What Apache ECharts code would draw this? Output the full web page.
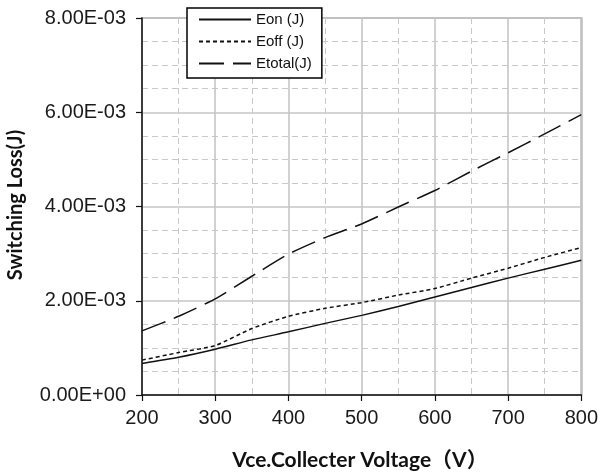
<!DOCTYPE html>
<html>
<head>
<meta charset="utf-8">
<script src="https://cdn.jsdelivr.net/npm/echarts@6/dist/echarts.min.js"></script>
<style>
  html, body { margin: 0; padding: 0; background: #ffffff; }
  #chart { width: 601px; height: 472px; }
</style>
</head>
<body>
<div id="chart"></div>
<script>
// Collector-emitter voltage (V)
const voltage = [200, 250, 300, 350, 400, 450, 500, 550, 600, 650, 700, 750, 800];

// Switching energies (J)
const eon    = [0.67e-3, 0.80e-3, 0.97e-3, 1.17e-3, 1.34e-3, 1.52e-3, 1.69e-3, 1.88e-3, 2.08e-3, 2.28e-3, 2.48e-3, 2.67e-3, 2.86e-3];
const eoff   = [0.74e-3, 0.90e-3, 1.05e-3, 1.41e-3, 1.67e-3, 1.84e-3, 1.96e-3, 2.12e-3, 2.26e-3, 2.48e-3, 2.69e-3, 2.92e-3, 3.13e-3];
const etotal = [1.36e-3, 1.67e-3, 2.04e-3, 2.52e-3, 2.99e-3, 3.34e-3, 3.63e-3, 3.99e-3, 4.34e-3, 4.75e-3, 5.14e-3, 5.54e-3, 5.95e-3];

const seriesNames = ['Eon (J)', 'Eoff (J)', 'Etotal(J)'];
const yTickLabels = ['0.00E+00', '2.00E-03', '4.00E-03', '6.00E-03', '8.00E-03'];
const xTickLabels = ['200', '300', '400', '500', '600', '700', '800'];
const xTitle = 'Vce.Collecter Voltage（V）';
const yTitle = 'Switching Loss(J)';

const pairs = (ys) => voltage.map((v, i) => [v, ys[i]]);

const chart = echarts.init(document.getElementById('chart'), null, { renderer: 'canvas' });

const labelFont = { fontFamily: 'Liberation Sans', fontSize: 20, color: '#1a1a1a' };
const majorGrid = { show: true, lineStyle: { color: '#c6c6c6', width: 1.6, type: 'solid' } };
const minorGrid = { show: true, lineStyle: { color: '#c8c8c8', width: 1, type: [6, 4] } };
const axisLine = { show: true, onZero: false, lineStyle: { color: '#111', width: 1.5 } };
const axisTick = { show: true, inside: false, length: 6, lineStyle: { color: '#111', width: 1.2 } };

chart.setOption({
  animation: false,
  backgroundColor: '#ffffff',
  grid: {
    left: 142, right: 16, top: 18, bottom: 77,
    show: true, borderColor: '#b4b4b4', borderWidth: 2, backgroundColor: 'transparent'
  },
  legend: {
    orient: 'vertical',
    left: 187, top: 8,
    data: seriesNames,
    itemWidth: 52, itemHeight: 12, itemGap: 7,
    padding: [4, 10, 7, 11],
    backgroundColor: '#ffffff',
    borderColor: '#000',
    borderWidth: 1.5,
    borderRadius: 0,
    // line-only keys: hide the marker drawn on top of the line sample
    itemStyle: { color: 'transparent', borderColor: 'transparent', borderWidth: 0, opacity: 0 },
    textStyle: { fontFamily: 'Liberation Sans', fontSize: 15, color: '#111' }
  },
  xAxis: {
    type: 'value', min: 200, max: 800, interval: 100,
    axisLine, axisTick,
    axisLabel: Object.assign({ margin: 13, formatter: (v) => xTickLabels[Math.round((v - 200) / 100)] }, labelFont),
    splitLine: majorGrid,
    minorTick: { show: false, splitNumber: 2 },
    minorSplitLine: minorGrid
  },
  yAxis: {
    type: 'value', min: 0, max: 0.008, interval: 0.002,
    axisLine, axisTick,
    axisLabel: Object.assign({ margin: 16, formatter: (v) => yTickLabels[Math.round(v / 0.002)] }, labelFont),
    splitLine: majorGrid,
    minorTick: { show: false, splitNumber: 4 },
    minorSplitLine: minorGrid
  },
  graphic: [
    {
      type: 'text', x: 360, y: 460,
      style: {
        text: xTitle, align: 'center', verticalAlign: 'middle',
        font: 'bold 21px Lato, "Noto Sans CJK SC", sans-serif', fill: '#111'
      }
    },
    {
      type: 'text', x: 16, y: 205, rotation: Math.PI / 2,
      style: {
        text: yTitle, align: 'center', verticalAlign: 'middle',
        font: 'bold 20px Lato, sans-serif', fill: '#111'
      }
    }
  ],
  series: [
    {
      name: seriesNames[0], type: 'line', data: pairs(eon), symbol: 'none', smooth: 0.2,
      lineStyle: { color: '#111', width: 1.5, type: 'solid' }, itemStyle: { color: '#111' }
    },
    {
      name: seriesNames[1], type: 'line', data: pairs(eoff), symbol: 'none', smooth: 0.2,
      lineStyle: { color: '#111', width: 1.5, type: [4, 3] }, itemStyle: { color: '#111' }
    },
    {
      name: seriesNames[2], type: 'line', data: pairs(etotal), symbol: 'none', smooth: 0.2,
      lineStyle: { color: '#111', width: 1.5, type: [25, 9] }, itemStyle: { color: '#111' }
    }
  ]
});
</script>
</body>
</html>
